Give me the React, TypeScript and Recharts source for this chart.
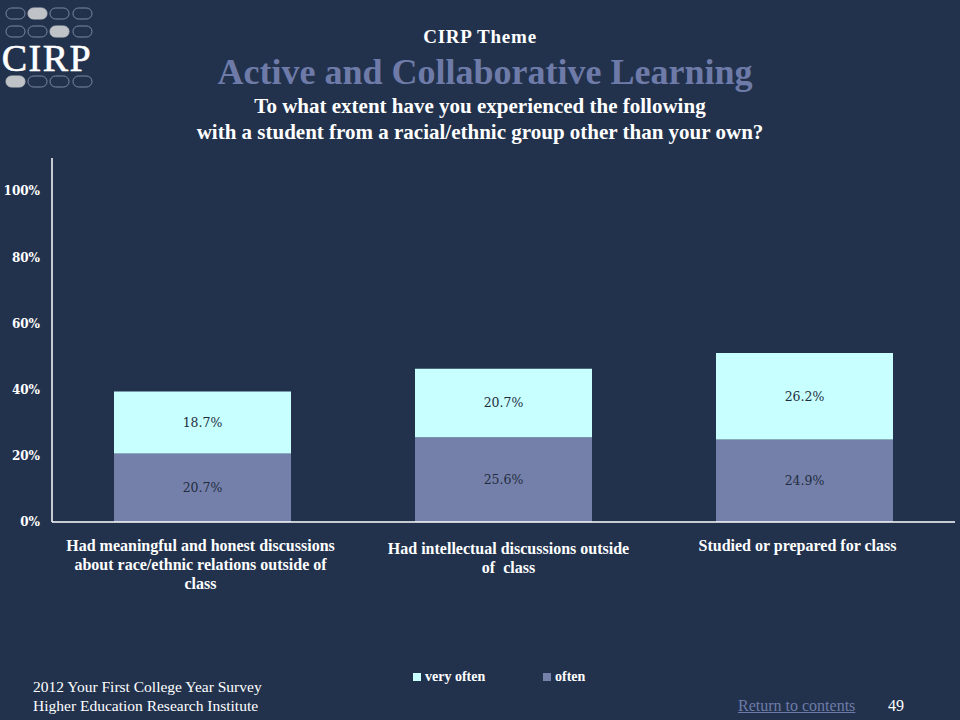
import React from "react";
import { BarChart, Bar, XAxis, YAxis, LabelList, Legend } from "recharts";

const categories = ["discussions", "intellectual", "studied"];
const categoryLines = [
  ["Had meaningful and honest discussions", "about race/ethnic relations outside of", "class"],
  ["Had intellectual discussions outside", "of  class"],
  ["Studied or prepared for class"],
];
const oftenValues = [20.7, 25.6, 24.9];
const veryOftenValues = [18.7, 20.7, 26.2];
const yTicks = [0, 20, 40, 60, 80, 100];
const seriesNames = { often: "often", veryOften: "very often" };

const BG = "#22324d";
const OFTEN_COLOR = "#7580aa";
const VERY_OFTEN_COLOR = "#c8ffff";
const TITLE_COLOR = "#6e7ba8";
const FONT = "'Liberation Serif', 'Times New Roman', serif";
const tickLineOffsetsY = [0, 3, 0];
const tickLineOffsetsX = [-2, 5, -7];

const data = categories.map((c, i) => ({
  key: c,
  often: oftenValues[i],
  veryOften: veryOftenValues[i],
}));

const CategoryTick = (props: any) => {
  const { x, y, payload, index } = props;
  const lines = categoryLines[index] || [String(payload.value)];
  const offY = tickLineOffsetsY[index] || 0;
  const offX = tickLineOffsetsX[index] || 0;
  return (
    <g>
      {lines.map((l, i) => (
        <text
          key={i}
          x={x + offX}
          y={y + 21 + offY + i * 19}
          textAnchor="middle"
          fill="#ffffff"
          fontFamily={FONT}
          fontWeight="bold"
          fontSize={16}
          style={{ whiteSpace: "pre" }}
        >
          {l}
        </text>
      ))}
    </g>
  );
};

const LegendContent = (props: any) => {
  const items = [...(props.payload || [])].reverse();
  return (
    <div style={{ display: "flex", justifyContent: "flex-start", paddingLeft: 413 }}>
      {items.map((it: any, i: number) => (
        <div
          key={i}
          style={{
            display: "flex",
            alignItems: "center",
            width: i === 0 ? 130 : 80,
            fontFamily: FONT,
            fontWeight: "bold",
            fontSize: 14,
            color: "#ffffff",
          }}
        >
          <span style={{ display: "inline-block", width: 8, height: 8, background: it.color, marginRight: 4 }} />
          {it.value}
        </div>
      ))}
    </div>
  );
};

const Logo = () => {
  const cols = [6, 28, 50, 73];
  const rows = [8, 26, 76];
  const filled: Record<string, boolean> = { "0-1": true, "1-2": true, "2-0": true };
  return (
    <svg width={96} height={96} style={{ position: "absolute", left: 0, top: 0 }}>
      {rows.map((ry, r) =>
        cols.map((cx, c) => (
          <rect
            key={`${r}-${c}`}
            x={cx}
            y={ry}
            width={19}
            height={11}
            rx={5.5}
            fill={filled[`${r}-${c}`] ? "#bfc2c6" : "none"}
            stroke={filled[`${r}-${c}`] ? "#bfc2c6" : "#7d89a4"}
            strokeWidth={1}
          />
        ))
      )}
      <text x={47} y={71} textAnchor="middle" fill="#ffffff" fontFamily={FONT} fontSize={38} letterSpacing={1.5} stroke="#ffffff" strokeWidth={0.6}>
        CIRP
      </text>
    </svg>
  );
};

export default function App() {
  return (
    <div
      style={{
        position: "absolute",
        left: 0,
        top: 0,
        width: 960,
        height: 720,
        background: BG,
        overflow: "hidden",
        fontFamily: FONT,
      }}
    >
      <Logo />
      <div style={{ position: "absolute", left: 0, width: 960, top: 26, textAlign: "center", color: "#fff", fontWeight: "bold", fontSize: 19, lineHeight: "22px", letterSpacing: 0.8 }}>
        CIRP Theme
      </div>
      <div style={{ position: "absolute", left: 5, width: 960, top: 51, textAlign: "center", color: TITLE_COLOR, fontWeight: "bold", fontSize: 36, lineHeight: "42px" }}>
        Active and Collaborative Learning
      </div>
      <div style={{ position: "absolute", left: 0, width: 960, top: 93, textAlign: "center", color: "#fff", fontWeight: "bold", fontSize: 21, lineHeight: "26px" }}>
        To what extent have you experienced the following
        <br />
        with a student from a racial/ethnic group other than your own?
      </div>

      <div style={{ position: "absolute", left: 0, top: 0 }}>
        <BarChart
          width={960}
          height={720}
          data={data}
          margin={{ top: 158, right: 5, left: 0, bottom: 138 }}
        >
          <XAxis
            dataKey="key"
            height={60}
            axisLine={{ stroke: "#ffffff", strokeWidth: 1.5 }}
            tickLine={false}
            tick={<CategoryTick />}
            interval={0}
          />
          <YAxis
            width={52}
            domain={[0, 110]}
            ticks={yTicks}
            allowDataOverflow
            axisLine={{ stroke: "#ffffff", strokeWidth: 1.5 }}
            tickLine={false}
            tickMargin={6}
            tickFormatter={(v: number) => `${v}%`}
            tick={{ fill: "#ffffff", fontFamily: "'DejaVu Serif', serif", fontWeight: "bold", fontSize: 12 }}
          />
          <Legend
            layout="horizontal"
            verticalAlign="middle"
            align="center"
            wrapperStyle={{ top: 669, left: 0, width: 960 }}
            content={<LegendContent />}
          />
          <Bar dataKey="often" name={seriesNames.often} stackId="a" fill={OFTEN_COLOR} barSize={177} isAnimationActive={false}>
            <LabelList
              dataKey="often"
              position="center"
              formatter={(v: any) => `${Number(v).toFixed(1)}%`}
              fill="#1f2d40"
              fontFamily="'DejaVu Serif', serif"
              fontSize={12.5}
            />
          </Bar>
          <Bar dataKey="veryOften" name={seriesNames.veryOften} stackId="a" fill={VERY_OFTEN_COLOR} barSize={177} isAnimationActive={false}>
            <LabelList
              dataKey="veryOften"
              position="center"
              formatter={(v: any) => `${Number(v).toFixed(1)}%`}
              fill="#1f2d40"
              fontFamily="'DejaVu Serif', serif"
              fontSize={12.5}
            />
          </Bar>
        </BarChart>
      </div>

      <div style={{ position: "absolute", left: 33, top: 677, color: "#fff", fontSize: 15.5, lineHeight: "19px" }}>
        2012 Your First College Year Survey
        <br />
        Higher Education Research Institute
      </div>
      <div style={{ position: "absolute", left: 738, top: 696, color: TITLE_COLOR, fontSize: 16, lineHeight: "19px", textDecoration: "underline" }}>
        Return to contents
      </div>
      <div style={{ position: "absolute", left: 888, top: 696, color: "#fff", fontSize: 16, lineHeight: "19px" }}>
        49
      </div>
    </div>
  );
}
